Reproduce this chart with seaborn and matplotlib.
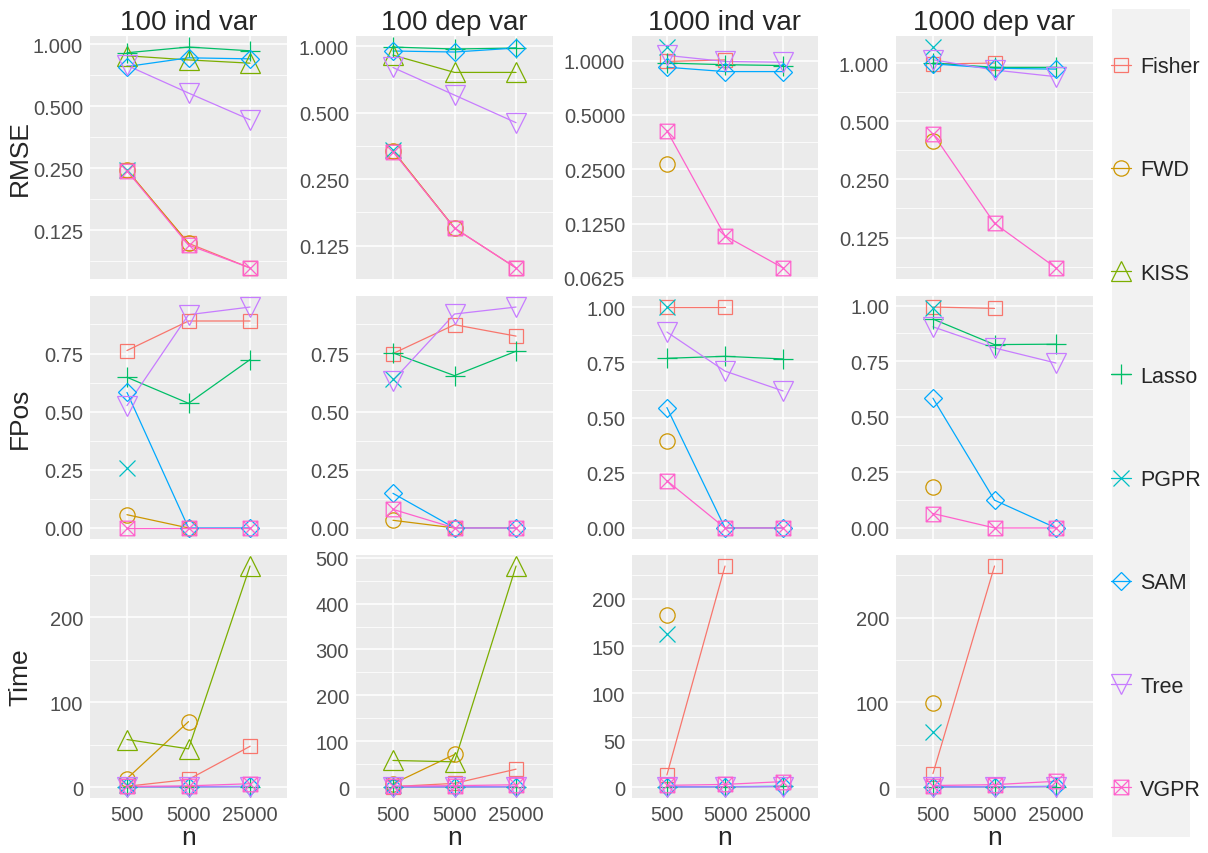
import numpy as np
import pandas as pd
import matplotlib
matplotlib.use("Agg")
import matplotlib.pyplot as plt
import seaborn as sns
from matplotlib.lines import Line2D
from matplotlib.path import Path
from matplotlib.ticker import FixedLocator, NullFormatter

nan = np.nan

# ---------------------------------------------------------
# data
# ---------------------------------------------------------
methods = ["Fisher", "FWD", "KISS", "Lasso", "PGPR", "SAM", "Tree", "VGPR"]
n_labels = ["500", "5000", "25000"]
scenarios = ["100 ind var", "100 dep var", "1000 ind var", "1000 dep var"]
metrics = ["RMSE", "FPos", "Time"]

rmse_100_ind = {
    "Fisher": [0.245, 0.108, 0.082], "FWD": [0.245, 0.108, nan],
    "KISS": [0.88, 0.84, 0.81], "Lasso": [0.91, 0.97, 0.93],
    "PGPR": [0.245, nan, nan], "SAM": [0.78, 0.86, 0.85],
    "Tree": [0.79, 0.58, 0.43], "VGPR": [0.243, 0.106, 0.082],
}
rmse_100_dep = {
    "Fisher": [0.336, 0.150, 0.099], "FWD": [0.336, 0.150, nan],
    "KISS": [0.91, 0.76, 0.76], "Lasso": [0.99, 0.97, 0.98],
    "PGPR": [0.34, nan, nan], "SAM": [0.95, 0.94, 0.98],
    "Tree": [0.80, 0.60, 0.45], "VGPR": [0.333, 0.150, 0.099],
}
rmse_1000_ind = {
    "Fisher": [0.99, 1.01, nan], "FWD": [0.268, nan, nan],
    "KISS": [nan, nan, nan], "Lasso": [0.97, 0.95, 0.94],
    "PGPR": [1.19, nan, nan], "SAM": [0.92, 0.87, 0.87],
    "Tree": [1.07, 0.99, 0.98], "VGPR": [0.41, 0.107, 0.071],
}
rmse_1000_dep = {
    "Fisher": [0.99, 1.00, nan], "FWD": [0.395, nan, nan],
    "KISS": [nan, nan, nan], "Lasso": [1.00, 0.95, 0.95],
    "PGPR": [1.21, nan, nan], "SAM": [0.99, 0.94, 0.93],
    "Tree": [1.04, 0.92, 0.85], "VGPR": [0.43, 0.148, 0.087],
}

fpos_100_ind = {
    "Fisher": [0.763, 0.89, 0.89], "FWD": [0.057, 0.0, nan],
    "KISS": [nan, nan, nan], "Lasso": [0.648, 0.536, 0.724],
    "PGPR": [0.256, nan, nan], "SAM": [0.583, 0.0, 0.0],
    "Tree": [0.526, 0.917, 0.95], "VGPR": [0.0, 0.0, 0.0],
}
fpos_100_dep = {
    "Fisher": [0.75, 0.874, 0.825], "FWD": [0.033, 0.0, nan],
    "KISS": [nan, nan, nan], "Lasso": [0.753, 0.655, 0.76],
    "PGPR": [0.64, nan, nan], "SAM": [0.149, 0.0, 0.0],
    "Tree": [0.634, 0.92, 0.95], "VGPR": [0.08, 0.0, 0.0],
}
fpos_1000_ind = {
    "Fisher": [1.0, 1.0, nan], "FWD": [0.395, nan, nan],
    "KISS": [nan, nan, nan], "Lasso": [0.768, 0.777, 0.765],
    "PGPR": [1.0, nan, nan], "SAM": [0.545, 0.0, 0.0],
    "Tree": [0.887, 0.71, 0.62], "VGPR": [0.214, 0.0, 0.0],
}
fpos_1000_dep = {
    "Fisher": [0.994, 0.988, nan], "FWD": [0.185, nan, nan],
    "KISS": [nan, nan, nan], "Lasso": [0.94, 0.825, 0.827],
    "PGPR": [0.99, nan, nan], "SAM": [0.584, 0.125, 0.0],
    "Tree": [0.905, 0.81, 0.742], "VGPR": [0.065, 0.0, 0.0],
}

time_100_ind = {
    "Fisher": [1.0, 9.0, 48.0], "FWD": [10.0, 77.0, nan],
    "KISS": [56.0, 45.0, 260.0], "Lasso": [0.3, 0.4, 0.6],
    "PGPR": [3.0, nan, nan], "SAM": [0.5, 0.6, 0.8],
    "Tree": [0.2, 0.3, 0.5], "VGPR": [0.8, 1.5, 4.0],
}
time_100_dep = {
    "Fisher": [1.0, 8.0, 39.0], "FWD": [7.0, 71.0, nan],
    "KISS": [58.0, 55.0, 482.0], "Lasso": [0.3, 0.4, 0.7],
    "PGPR": [4.0, nan, nan], "SAM": [0.5, 0.6, 0.9],
    "Tree": [0.2, 0.3, 0.5], "VGPR": [2.0, 3.0, 5.0],
}
time_1000_ind = {
    "Fisher": [13.0, 235.0, nan], "FWD": [183.0, nan, nan],
    "KISS": [nan, nan, nan], "Lasso": [0.4, 0.5, 0.8],
    "PGPR": [163.0, nan, nan], "SAM": [0.5, 0.6, 1.0],
    "Tree": [0.3, 0.4, 0.6], "VGPR": [2.0, 3.0, 6.0],
}
time_1000_dep = {
    "Fisher": [16.0, 261.0, nan], "FWD": [99.5, nan, nan],
    "KISS": [nan, nan, nan], "Lasso": [0.4, 0.5, 0.8],
    "PGPR": [65.0, nan, nan], "SAM": [0.5, 0.6, 1.0],
    "Tree": [0.3, 0.4, 0.6], "VGPR": [2.0, 3.0, 7.0],
}

panel_data = [
    [rmse_100_ind, rmse_100_dep, rmse_1000_ind, rmse_1000_dep],
    [fpos_100_ind, fpos_100_dep, fpos_1000_ind, fpos_1000_dep],
    [time_100_ind, time_100_dep, time_1000_ind, time_1000_dep],
]

# y breaks per panel
rmse_breaks = [[0.125, 0.25, 0.5, 1.0], [0.125, 0.25, 0.5, 1.0],
               [0.0625, 0.125, 0.25, 0.5, 1.0], [0.125, 0.25, 0.5, 1.0]]
rmse_fmt = ["{:.3f}", "{:.3f}", "{:.4f}", "{:.3f}"]
fpos_breaks = [[0, 0.25, 0.5, 0.75], [0, 0.25, 0.5, 0.75],
               [0, 0.25, 0.5, 0.75, 1.0], [0, 0.25, 0.5, 0.75, 1.0]]
time_breaks = [[0, 100, 200], [0, 100, 200, 300, 400, 500],
               [0, 50, 100, 150, 200], [0, 100, 200]]

# ---------------------------------------------------------
# style (ggplot-like look)
# ---------------------------------------------------------
colors = ["#F8766D", "#CD9600", "#7CAE00", "#00BE67",
          "#00BFC4", "#00A9FF", "#C77CFF", "#FF61CC"]
palette = dict(zip(methods, colors))

boxx = Path(
    [(-1, -1), (1, -1), (1, 1), (-1, 1), (-1, -1),
     (-1, -1), (1, 1), (-1, 1), (1, -1)],
    [Path.MOVETO, Path.LINETO, Path.LINETO, Path.LINETO, Path.CLOSEPOLY,
     Path.MOVETO, Path.LINETO, Path.MOVETO, Path.LINETO],
)
markers = {"Fisher": "s", "FWD": "o", "KISS": "^", "Lasso": "+",
           "PGPR": "x", "SAM": "D", "Tree": "v", "VGPR": boxx}
msizes = {"Fisher": 10.5, "FWD": 11, "KISS": 14, "Lasso": 14,
          "PGPR": 11, "SAM": 9.2, "Tree": 14, "VGPR": 10.5}

sns.set_theme(style="darkgrid", rc={
    "axes.facecolor": "#EBEBEB",
    "grid.color": "white",
    "axes.edgecolor": "none",
    "xtick.color": "#333333",
    "ytick.color": "#333333",
    "xtick.labelcolor": "#4D4D4D",
    "ytick.labelcolor": "#4D4D4D",
})
plt.rcParams["font.family"] = ["Liberation Sans", "DejaVu Sans"]

W, H = 1208, 854
fig = plt.figure(figsize=(W / 100, H / 100), dpi=100)

col_px = [(90, 287), (356, 553), (632, 818), (896, 1093)]
row_px = [(37, 280), (297, 540), (556, 799)]


def ylimits(values, log):
    v = np.array([x for x in values if not np.isnan(x)])
    if log:
        v = np.log2(v)
    lo, hi = v.min(), v.max()
    pad = 0.05 * (hi - lo)
    lo, hi = lo - pad, hi + pad
    if log:
        return 2 ** lo, 2 ** hi
    return lo, hi


for r in range(3):
    for c in range(4):
        x0, x1 = col_px[c]
        y0, y1 = row_px[r]
        ax = fig.add_axes([x0 / W, 1 - y1 / H, (x1 - x0) / W, (y1 - y0) / H])
        data = panel_data[r][c]

        rows = []
        for m in methods:
            for i, v in enumerate(data[m]):
                rows.append({"method": m, "pos": i, "value": v})
        df = pd.DataFrame(rows).dropna()

        log = (r == 0)
        if log:
            ax.set_yscale("log", base=2)

        # lines first, then open markers
        sns.lineplot(data=df, x="pos", y="value", hue="method",
                     hue_order=methods, palette=palette, estimator=None,
                     linewidth=0.9, legend=False, ax=ax)
        for m in methods:
            sub = df[df["method"] == m]
            if len(sub) == 0:
                continue
            ax.plot(sub["pos"], sub["value"], linestyle="none",
                    marker=markers[m], ms=msizes[m], mfc="none",
                    mec=palette[m], mew=0.9)

        ax.set_xlim(-0.6, 2.6)
        all_vals = [v for m in methods for v in data[m]]
        lo, hi = ylimits(all_vals, log)
        ax.set_ylim(lo, hi)

        # breaks and gridlines
        if r == 0:
            br = rmse_breaks[c]
            labels = [rmse_fmt[c].format(b) for b in br]
            lb = np.log2(br)
            step = lb[1] - lb[0]
            minor = 2 ** np.concatenate([[lb[0] - step / 2], lb + step / 2])
        else:
            br = fpos_breaks[c] if r == 1 else time_breaks[c]
            labels = ["{:.2f}".format(b) for b in br] if r == 1 else [str(b) for b in br]
            step = br[1] - br[0]
            minor = np.concatenate([[br[0] - step / 2], np.array(br) + step / 2])
        ax.yaxis.set_major_locator(FixedLocator(br))
        ax.set_yticklabels(labels)
        ax.yaxis.set_minor_locator(FixedLocator(minor))
        ax.yaxis.set_minor_formatter(NullFormatter())

        ax.set_xticks([0, 1, 2])
        ax.xaxis.set_minor_locator(FixedLocator([]))
        ax.grid(which="major", color="white", linewidth=1.1)
        ax.grid(which="minor", axis="y", color="white", linewidth=0.55)
        ax.tick_params(which="major", length=3, width=0.8, labelsize=14.5, pad=2)
        ax.tick_params(which="minor", length=0)
        for s in ax.spines.values():
            s.set_visible(False)

        if r == 2:
            ax.set_xticklabels(n_labels)
            ax.set_xlabel("n", fontsize=19)
            ax.xaxis.set_label_coords(0.5, (799 - 826) / (y1 - y0))
        else:
            ax.tick_params(axis="x", which="both", length=0, labelbottom=False)
            ax.set_xlabel("")

        if c == 0:
            ax.set_ylabel(metrics[r], fontsize=19)
            ax.yaxis.set_label_coords((32 - x0) / (x1 - x0), 0.5)
        else:
            ax.set_ylabel("")

        if r == 0:
            ax.set_title(scenarios[c], fontsize=20, pad=5)

# ---------------------------------------------------------
# legend in its own grey strip
# ---------------------------------------------------------
lax = fig.add_axes([1112 / W, 1 - 838 / H, 78 / W, 828 / H])
lax.set_facecolor("#F2F2F2")
lax.set_xticks([])
lax.set_yticks([])
lax.grid(False)
for s in lax.spines.values():
    s.set_visible(False)

handles = [Line2D([], [], color=palette[m], linewidth=0.9, marker=markers[m],
                  ms=msizes[m], mfc="none", mec=palette[m], mew=0.9)
           for m in methods]
lax.legend(handles, methods, loc="center left", bbox_to_anchor=(-0.01, 0.494),
           frameon=False, fontsize=15.5, labelspacing=3.82, handlelength=0.93,
           handletextpad=0.42, borderaxespad=0, borderpad=0)

fig.savefig("out.png", dpi=100)
